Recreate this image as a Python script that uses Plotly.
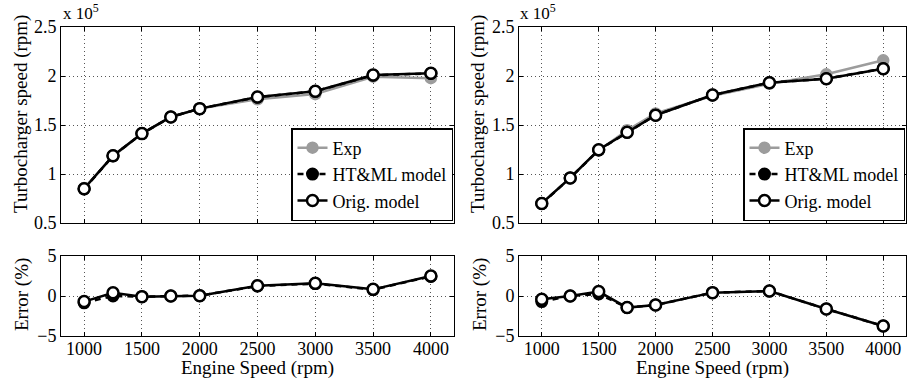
import plotly.graph_objects as go

# ---------------- data ----------------
engine_speed = [1000, 1250, 1500, 1750, 2000, 2500, 3000, 3500, 4000]

# Turbocharger speed, in units of 1e5 rpm
left_exp = [0.856, 1.182, 1.412, 1.582, 1.667, 1.763, 1.815, 1.993, 1.978]
left_html = [0.848, 1.185, 1.412, 1.582, 1.667, 1.784, 1.844, 2.008, 2.026]
left_orig = [0.850, 1.187, 1.412, 1.582, 1.667, 1.786, 1.844, 2.010, 2.027]

right_exp = [0.703, 0.960, 1.241, 1.446, 1.618, 1.799, 1.920, 2.017, 2.160]
right_html = [0.698, 0.960, 1.245, 1.425, 1.600, 1.806, 1.932, 1.973, 2.075]
right_orig = [0.700, 0.960, 1.248, 1.425, 1.600, 1.806, 1.932, 1.973, 2.075]

# Error (%)
left_err_html = [-0.85, 0.00, -0.08, 0.00, 0.04, 1.25, 1.55, 0.80, 2.45]
left_err_orig = [-0.70, 0.41, -0.08, 0.00, 0.04, 1.29, 1.58, 0.83, 2.50]

right_err_html = [-0.70, 0.00, 0.25, -1.45, -1.12, 0.42, 0.62, -1.62, -3.75]
right_err_orig = [-0.40, 0.00, 0.55, -1.45, -1.12, 0.42, 0.62, -1.62, -3.75]

x_ticks = [1000, 1500, 2000, 2500, 3000, 3500, 4000]
top_y_ticks = [0.5, 1, 1.5, 2, 2.5]
top_y_text = ["0.5", "1", "1.5", "2", "2.5"]
err_y_ticks = [-5, 0, 5]
err_y_text = ["\u22125", "0", "5"]

legend_names = ["Exp", "HT&amp;ML model", "Orig. model"]

# ---------------- style ----------------
FONT = "Liberation Serif, Times New Roman, serif"
W, H = 912, 388
GRAY = "#9c9c9c"
BLACK = "#000000"

def px_x(p):
    return p / W

def px_y(p):
    return (H - p) / H

left_dom = [px_x(61), px_x(454)]
right_dom = [px_x(519), px_x(906)]
top_dom = [px_y(223), px_y(27)]
bot_dom = [px_y(336), px_y(256)]

fig = go.Figure()

def add_series(xa, ya, exp, html, orig, legend, showlegend):
    if exp is not None:
        fig.add_trace(go.Scatter(
            x=engine_speed, y=exp, mode="lines+markers", name=legend_names[0],
            line=dict(color=GRAY, width=2.5),
            marker=dict(symbol="circle", size=11, color=GRAY, line=dict(color=GRAY, width=1.5)),
            xaxis=xa, yaxis=ya, legend=legend, showlegend=showlegend))
    fig.add_trace(go.Scatter(
        x=engine_speed, y=html, mode="lines+markers", name=legend_names[1],
        line=dict(color=BLACK, width=2.5, dash="6px,5px"),
        marker=dict(symbol="circle", size=11, color=BLACK, line=dict(color=BLACK, width=2)),
        xaxis=xa, yaxis=ya, legend=legend, showlegend=showlegend))
    fig.add_trace(go.Scatter(
        x=engine_speed, y=orig, mode="lines+markers", name=legend_names[2],
        line=dict(color=BLACK, width=2.5),
        marker=dict(symbol="circle", size=11, color="white", line=dict(color=BLACK, width=2.5)),
        xaxis=xa, yaxis=ya, legend=legend, showlegend=showlegend))

add_series("x", "y", left_exp, left_html, left_orig, "legend", True)
add_series("x2", "y2", None, left_err_html, left_err_orig, "legend", False)
add_series("x3", "y3", right_exp, right_html, right_orig, "legend2", True)
add_series("x4", "y4", None, right_err_html, right_err_orig, "legend2", False)

axis_common = dict(
    showline=True, linecolor=BLACK, linewidth=1, mirror="ticks",
    ticks="inside", ticklen=4, tickwidth=1, tickcolor=BLACK,
    showgrid=True, gridcolor="#555555", griddash="1px,3px", gridwidth=1,
    zeroline=False, tickfont=dict(family=FONT, size=18, color=BLACK),
    fixedrange=True, automargin=False,
)

def xaxis(domain, anchor, labels):
    d = dict(axis_common)
    d.update(domain=domain, anchor=anchor, range=[800, 4200],
             tickmode="array", tickvals=x_ticks,
             ticktext=[str(v) for v in x_ticks], showticklabels=labels,
             ticklabelstandoff=-4)
    return d

def yaxis(domain, anchor, rng, vals, text):
    d = dict(axis_common)
    d.update(domain=domain, anchor=anchor, range=rng, tickmode="array",
             tickvals=vals, ticktext=text)
    return d

legend_style = dict(
    bgcolor="white", bordercolor=BLACK, borderwidth=1.5,
    font=dict(family=FONT, size=18, color=BLACK),
    xref="paper", yref="paper", xanchor="right", yanchor="bottom",
    tracegroupgap=0, itemwidth=30,
)

fig.update_layout(
    width=W, height=H,
    margin=dict(l=0, r=0, t=0, b=0, autoexpand=False),
    paper_bgcolor="white", plot_bgcolor="white",
    font=dict(family=FONT, size=18, color=BLACK),
    xaxis=xaxis(left_dom, "y", False),
    yaxis=yaxis(top_dom, "x", [0.5, 2.5], top_y_ticks, top_y_text),
    xaxis2=xaxis(left_dom, "y2", True),
    yaxis2=yaxis(bot_dom, "x2", [-5, 5], err_y_ticks, err_y_text),
    xaxis3=xaxis(right_dom, "y3", False),
    yaxis3=yaxis(top_dom, "x3", [0.5, 2.5], top_y_ticks, top_y_text),
    xaxis4=xaxis(right_dom, "y4", True),
    yaxis4=yaxis(bot_dom, "x4", [-5, 5], err_y_ticks, err_y_text),
    legend=dict(legend_style, x=px_x(453), y=px_y(221)),
    legend2=dict(legend_style, x=px_x(905), y=px_y(221)),
    showlegend=True,
)

def ann(text, x, y, xanchor="center", yanchor="middle", angle=0, size=19):
    fig.add_annotation(text=text, x=x, y=y, xref="paper", yref="paper",
                       xanchor=xanchor, yanchor=yanchor, textangle=angle,
                       showarrow=False, font=dict(family=FONT, size=size, color=BLACK))

# y titles
ann("Turbocharger speed (rpm)", px_x(21), px_y(114), angle=-90)
ann("Turbocharger speed (rpm)", px_x(478), px_y(114), angle=-90)
ann("Error (%)", px_x(22), px_y(295), angle=-90)
ann("Error (%)", px_x(480), px_y(295), angle=-90)
# x titles
ann("Engine Speed (rpm)", (left_dom[0] + left_dom[1]) / 2, px_y(368))
ann("Engine Speed (rpm)", (right_dom[0] + right_dom[1]) / 2, px_y(368))
# exponent labels
ann("x 10<sup>5</sup>", px_x(61), px_y(25), xanchor="left", yanchor="bottom", size=17)
ann("x 10<sup>5</sup>", px_x(518), px_y(25), xanchor="left", yanchor="bottom", size=17)

fig.write_html("out.html")
